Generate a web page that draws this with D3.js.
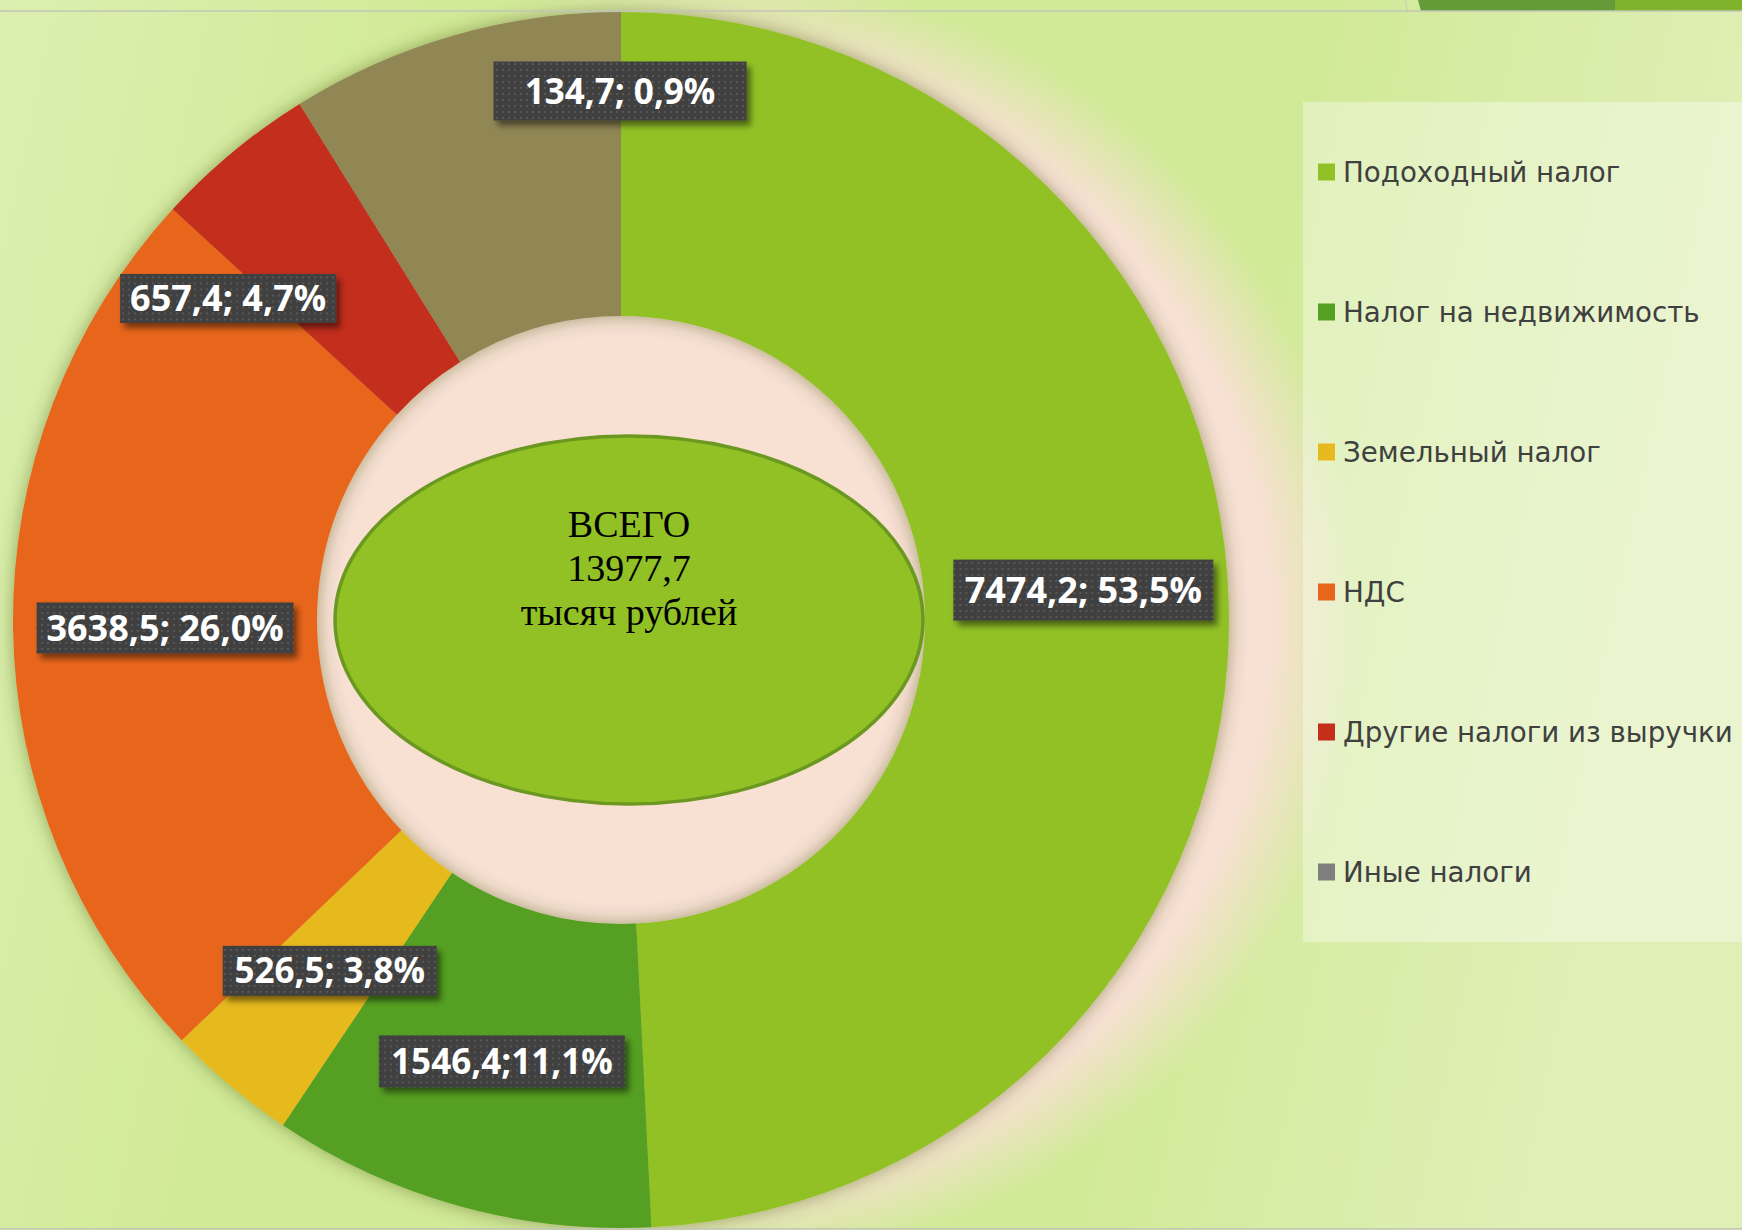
<!DOCTYPE html>
<html><head><meta charset="utf-8">
<script src="https://cdn.jsdelivr.net/npm/d3@7"></script>
<style>html,body{margin:0;padding:0;overflow:hidden;background:#d3eb9b}</style>
</head><body>
<svg id="chart" width="1742" height="1230" xmlns="http://www.w3.org/2000/svg"></svg>
<script>
// ---------------- data ----------------
const categories = ["Подоходный налог", "Налог на недвижимость", "Земельный налог", "НДС", "Другие налоги из выручки", "Иные налоги"];
// slice sizes as drawn in the picture (the "Иные налоги" slice is drawn at ~1347)
const sliceValues = [7474.2, 1546.4, 526.5, 3638.5, 657.4, 1347.0];
const labelTexts = ["7474,2; 53,5%", "1546,4;11,1%", "526,5; 3,8%", "3638,5; 26,0%", "657,4; 4,7%", "134,7; 0,9%"];
const totalLines = ["ВСЕГО", "13977,7", "тысяч рублей"];

// ---------------- styles / layout ----------------
const sliceColors = ["#92c125", "#54a022", "#e6b91f", "#e8661a", "#c42e1a", "#918755"];
const legendColors = ["#92c125", "#54a022", "#e6b91f", "#e8661a", "#c42e1a", "#7f7f7f"];
// label placement: polar angle (deg, clockwise from 12 o'clock), radius fraction, box w, h, font size
const labelLayout = [
  {a: 86.3, rf: 0.762, w: 260, h: 61, fs: 36},
  {a: 195.1, rf: 0.752, w: 246, h: 52, fs: 35},
  {a: 219.7, rf: 0.75, w: 214, h: 50, fs: 35},
  {a: 269.0, rf: 0.75, w: 257, h: 51, fs: 36},
  {a: 309.3, rf: 0.835, w: 216, h: 49, fs: 36},
  {a: -0.1, rf: 0.87, w: 253, h: 59, fs: 35}
];

const W = 1742, H = 1230;
const cx = 621, cy = 620, R = 608, r0 = 304;

const svg = d3.select("#chart");
const defs = svg.append("defs");

// background gradient
const bg = defs.append("linearGradient").attr("id", "bgGrad").attr("x1", 0).attr("y1", 0).attr("x2", 1).attr("y2", 0.15);
bg.append("stop").attr("offset", 0).attr("stop-color", "#dcefb0");
bg.append("stop").attr("offset", 0.25).attr("stop-color", "#d1ea97");
bg.append("stop").attr("offset", 0.75).attr("stop-color", "#d1ea98");
bg.append("stop").attr("offset", 1).attr("stop-color", "#dfefb6");

// peach glow
const pg = defs.append("radialGradient").attr("id", "peach").attr("gradientUnits", "userSpaceOnUse")
  .attr("cx", 715).attr("cy", 620).attr("r", 645);
pg.append("stop").attr("offset", 0).attr("stop-color", "#f8e0d3").attr("stop-opacity", 1);
pg.append("stop").attr("offset", 0.86).attr("stop-color", "#f8e0d3").attr("stop-opacity", 1);
pg.append("stop").attr("offset", 1).attr("stop-color", "#f8e0d3").attr("stop-opacity", 0);

// donut shadow
const ds = defs.append("filter").attr("id", "donutShadow").attr("x", "-20%").attr("y", "-20%").attr("width", "140%").attr("height", "140%");
ds.append("feGaussianBlur").attr("in", "SourceAlpha").attr("stdDeviation", 9).attr("result", "blur");
ds.append("feFlood").attr("flood-color", "#3b4a12").attr("flood-opacity", 0.45).attr("result", "col");
ds.append("feComposite").attr("in", "col").attr("in2", "blur").attr("operator", "in").attr("result", "sh");
const dm = ds.append("feMerge");
dm.append("feMergeNode").attr("in", "sh");
dm.append("feMergeNode").attr("in", "SourceGraphic");

// label shadow
const ls = defs.append("filter").attr("id", "labelShadow").attr("x", "-20%").attr("y", "-30%").attr("width", "140%").attr("height", "170%");
ls.append("feDropShadow").attr("dx", 4).attr("dy", 5).attr("stdDeviation", 3).attr("flood-color", "#000").attr("flood-opacity", 0.5);

// dotted label fill
const pat = defs.append("pattern").attr("id", "dots").attr("patternUnits", "userSpaceOnUse").attr("width", 6).attr("height", 6);
pat.append("rect").attr("width", 6).attr("height", 6).attr("fill", "#3f3f3f");
pat.append("rect").attr("x", 2).attr("y", 2).attr("width", 2).attr("height", 2).attr("fill", "#595959");

// background
svg.append("rect").attr("width", W).attr("height", H).attr("fill", "url(#bgGrad)");
svg.append("rect").attr("width", W).attr("height", H).attr("fill", "url(#peach)");

// top decorations
svg.append("polygon").attr("points", "1418,0 1615,0 1615,11 1421,11").attr("fill", "#659a38");
svg.append("rect").attr("x", 1615).attr("y", 0).attr("width", W - 1615).attr("height", 11).attr("fill", "#80b22b");
svg.append("line").attr("x1", 1405).attr("y1", 0).attr("x2", 1407.5).attr("y2", 11).attr("stroke", "#c9cdbf").attr("stroke-width", 1);

// donut
const pie = d3.pie().sort(null).value(d => d);
const arcs = pie(sliceValues);
const arc = d3.arc().innerRadius(r0).outerRadius(R);
const g = svg.append("g").attr("transform", `translate(${cx},${cy})`);
g.append("g").attr("filter", "url(#donutShadow)")
  .selectAll("path").data(arcs).join("path")
  .attr("d", arc)
  .attr("fill", (d, i) => sliceColors[i]);

// top & bottom frame lines
svg.append("line").attr("x1", 0).attr("x2", W).attr("y1", 11).attr("y2", 11).attr("stroke", "#c2c6b8").attr("stroke-width", 1.6);
svg.append("line").attr("x1", 0).attr("x2", W).attr("y1", 1228.8).attr("y2", 1228.8).attr("stroke", "#c2c6b8").attr("stroke-width", 1.6);

// center ellipse
const ex = 629, ey = 620;
svg.append("ellipse").attr("cx", ex).attr("cy", ey).attr("rx", 294).attr("ry", 184)
  .attr("fill", "#92c125").attr("stroke", "#6a9820").attr("stroke-width", 3.5);
svg.append("text").attr("x", ex).attr("y", 537)
  .attr("text-anchor", "middle").attr("font-family", "'Liberation Serif', 'Times New Roman', serif")
  .attr("font-size", 38).attr("fill", "#000")
  .selectAll("tspan").data(totalLines).join("tspan")
  .attr("x", ex).attr("dy", (d, i) => i === 0 ? 0 : 44).text(d => d);

// data labels
const labels = svg.append("g").selectAll("g").data(arcs).join("g")
  .attr("transform", (d, i) => {
    const L = labelLayout[i];
    const ang = L.a * Math.PI / 180;
    const rr = L.rf * R;
    return `translate(${cx + rr * Math.sin(ang)},${cy - rr * Math.cos(ang)})`;
  });
labels.append("rect")
  .attr("x", (d, i) => -labelLayout[i].w / 2).attr("y", (d, i) => -labelLayout[i].h / 2)
  .attr("width", (d, i) => labelLayout[i].w).attr("height", (d, i) => labelLayout[i].h)
  .attr("fill", "url(#dots)").attr("filter", "url(#labelShadow)");
labels.append("text")
  .attr("text-anchor", "middle")
  .attr("y", (d, i) => labelLayout[i].fs * 0.36)
  .attr("font-family", "'Open Sans', 'DejaVu Sans', sans-serif").attr("font-weight", "bold")
  .attr("font-size", (d, i) => labelLayout[i].fs)
  .attr("fill", "#ffffff")
  .text((d, i) => labelTexts[i]);

// legend
svg.append("rect").attr("x", 1303).attr("y", 102).attr("width", W - 1303).attr("height", 840)
  .attr("fill", "#ffffff").attr("fill-opacity", 0.36);
const ly = d3.scalePoint().domain(categories).range([172, 872]);
// fit legend font to the widest entry
const probe = svg.append("text").attr("font-family", "'DejaVu Sans', sans-serif").attr("font-size", 100).text(categories[4]);
const legendFs = 100 * 390 / probe.node().getComputedTextLength();
probe.remove();
const leg = svg.append("g").selectAll("g").data(categories).join("g")
  .attr("transform", d => `translate(0,${ly(d)})`);
leg.append("rect").attr("x", 1318).attr("y", -8.5).attr("width", 17).attr("height", 17)
  .attr("fill", (d, i) => legendColors[i]);
leg.append("text").attr("x", 1343).attr("y", 10)
  .attr("font-family", "'DejaVu Sans', sans-serif").attr("font-size", legendFs)
  .attr("fill", "#404040").text(d => d);
</script>
</body></html>
